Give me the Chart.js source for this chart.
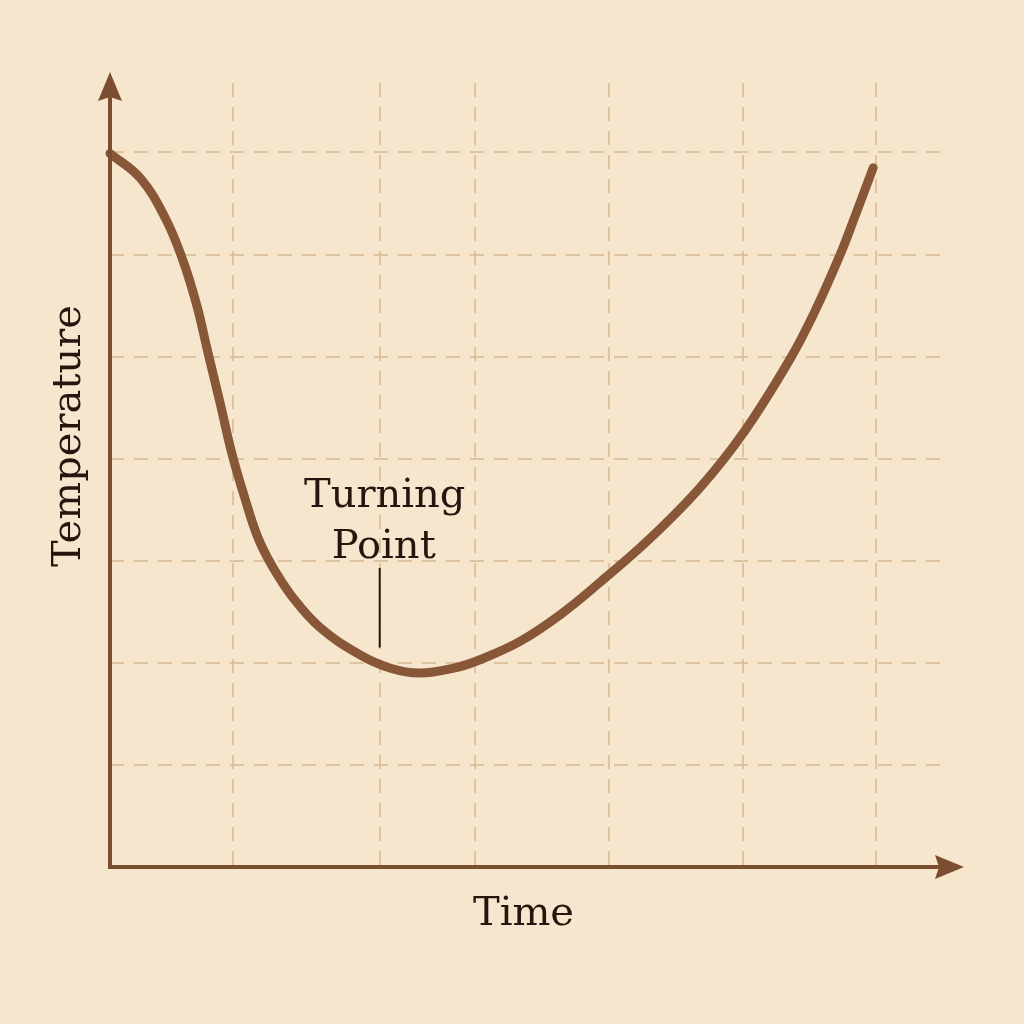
<!DOCTYPE html>
<html>
<head>
<meta charset="utf-8">
<script src="https://cdn.jsdelivr.net/npm/chart.js@4/dist/chart.umd.min.js"></script>
<style>
  html, body { margin: 0; padding: 0; background: #f6e6cd; }
  canvas { display: block; }
</style>
</head>
<body>
<canvas id="turnChart" width="1024" height="1024"></canvas>
<script>
// curve (x = time, y = temperature, arbitrary units)
let timeValues = [0, 0.36, 0.66, 0.87, 1.04, 1.17, 1.32, 1.46, 1.62, 1.77, 1.94, 2.18, 2.51, 2.99, 3.35, 3.71, 4.13, 4.43, 4.91, 5.39, 5.87, 6.47, 7.07, 7.60, 8.14, 8.44, 8.74, 8.92, 9.14];
let tempValues = [6.99, 6.75, 6.36, 5.95, 5.50, 5.05, 4.54, 4.05, 3.60, 3.23, 2.95, 2.65, 2.35, 2.08, 1.95, 1.90, 1.95, 2.03, 2.21, 2.47, 2.79, 3.22, 3.72, 4.27, 4.97, 5.44, 5.99, 6.37, 6.85];

// grid positions
let timeGrid = [1.47, 3.23, 4.37, 5.98, 7.58, 9.17];
let tempGrid = [1, 2, 3, 4, 5, 6, 7];

// annotation
let turnLabel = ["Turning", "Point"];
let turnTime = 3.23;
let turnMarkFrom = 2.15;
let turnMarkTo = 2.93;

let xTitle = "Time";
let yTitle = "Temperature";

let ink = "#24160e";
let axisColor = "#7b4e30";
let gridColor = "rgba(214, 184, 142, 0.75)";
let serif = "'DejaVu Serif', serif";

let paperBg = {
  id: "paperBg",
  beforeDraw(chart) {
    let ctx = chart.ctx;
    ctx.save();
    ctx.fillStyle = "#f6e6cd";
    ctx.fillRect(0, 0, chart.width, chart.height);
    ctx.restore();
  }
};

let axesAndText = {
  id: "axesAndText",
  afterDraw(chart) {
    let ctx = chart.ctx;
    let area = chart.chartArea;
    let xs = chart.scales.x;
    let ys = chart.scales.y;
    ctx.save();

    // axis lines
    ctx.strokeStyle = axisColor;
    ctx.fillStyle = axisColor;
    ctx.lineWidth = 4;
    ctx.beginPath();
    ctx.moveTo(area.left, area.bottom);
    ctx.lineTo(area.left, area.top + 12);
    ctx.moveTo(area.left - 2, area.bottom);
    ctx.lineTo(area.right + 10, area.bottom);
    ctx.stroke();

    // arrow heads
    let tipY = area.top - 11;
    ctx.beginPath();
    ctx.moveTo(area.left, tipY);
    ctx.lineTo(area.left + 12, tipY + 29);
    ctx.lineTo(area.left, tipY + 25);
    ctx.lineTo(area.left - 12, tipY + 29);
    ctx.closePath();
    ctx.fill();

    let tipX = area.right + 19;
    ctx.beginPath();
    ctx.moveTo(tipX, area.bottom);
    ctx.lineTo(tipX - 29, area.bottom - 12);
    ctx.lineTo(tipX - 25, area.bottom);
    ctx.lineTo(tipX - 29, area.bottom + 12);
    ctx.closePath();
    ctx.fill();

    // turning point mark
    let mx = xs.getPixelForValue(turnTime);
    let myTop = ys.getPixelForValue(turnMarkTo);
    let myBottom = ys.getPixelForValue(turnMarkFrom);
    ctx.strokeStyle = ink;
    ctx.lineWidth = 2;
    ctx.beginPath();
    ctx.moveTo(mx, myTop);
    ctx.lineTo(mx, myBottom);
    ctx.stroke();

    ctx.fillStyle = ink;
    ctx.font = "40px " + serif;
    ctx.textAlign = "center";
    ctx.textBaseline = "alphabetic";
    ctx.fillText(turnLabel[0], mx + 5, myTop - 61);
    ctx.fillText(turnLabel[1], mx + 4, myTop - 10);

    // axis titles
    ctx.fillText(xTitle, (area.left + area.right) / 2 - 4, area.bottom + 58);
    ctx.translate(80, 436);
    ctx.rotate(-Math.PI / 2);
    ctx.fillText(yTitle, 0, 0);
    ctx.restore();
  }
};

let canvasElement = document.getElementById("turnChart");
let config = {
  type: "line",
  data: {
    datasets: [
      {
        label: yTitle,
        data: timeValues.map((t, i) => ({ x: t, y: tempValues[i] })),
        borderColor: "#875737",
        borderWidth: 9,
        borderCapStyle: "round",
        borderJoinStyle: "round",
        tension: 0.4,
        pointRadius: 0,
        fill: false,
        clip: 12,
      },
    ],
  },
  options: {
    responsive: false,
    animation: false,
    layout: { padding: { left: 110, right: 79, top: 83, bottom: 157 } },
    plugins: {
      legend: { display: false },
      tooltip: { enabled: false },
    },
    scales: {
      x: {
        type: "linear",
        min: 0,
        max: 10,
        afterBuildTicks: (scale) => { scale.ticks = timeGrid.map((v) => ({ value: v })); },
        ticks: { display: false },
        grid: { color: gridColor, lineWidth: 2, drawTicks: false },
        border: { display: false, dash: [14, 10] },
      },
      y: {
        type: "linear",
        min: 0,
        max: 7.68,
        afterBuildTicks: (scale) => { scale.ticks = tempGrid.map((v) => ({ value: v })); },
        ticks: { display: false },
        grid: { color: gridColor, lineWidth: 2, drawTicks: false },
        border: { display: false, dash: [14, 10] },
      },
    },
  },
  plugins: [paperBg, axesAndText],
};
let turnChart = new Chart(canvasElement, config);
</script>
</body>
</html>
